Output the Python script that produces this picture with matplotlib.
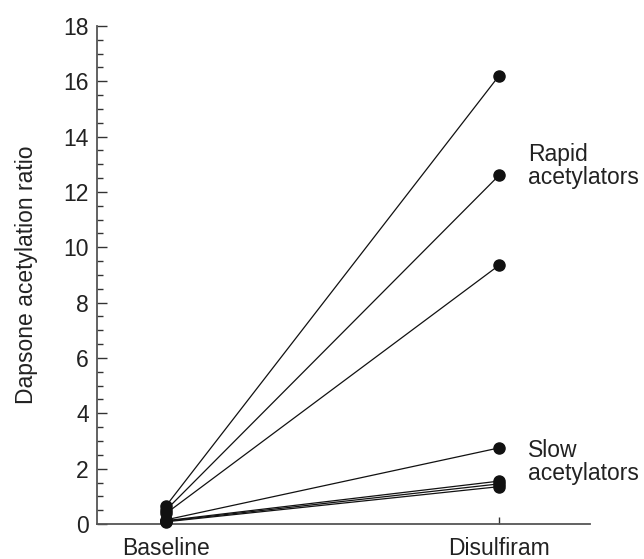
import matplotlib
matplotlib.use("Agg")
import matplotlib.pyplot as plt
from matplotlib.ticker import MultipleLocator

plt.rcParams['font.family'] = ['Liberation Sans', 'DejaVu Sans']

conditions = ["Baseline", "Disulfiram"]
baseline = [0.65, 0.50, 0.38, 0.15, 0.12, 0.10, 0.08]
disulfiram = [16.2, 12.6, 9.35, 2.75, 1.55, 1.45, 1.35]
group_labels = ["Rapid\nacetylators", "Slow\nacetylators"]
group_label_y = [12.95, 2.25]

FS = 16.5
TXT = '#222222'

fig = plt.figure(figsize=(6.44, 5.59), dpi=100)
ax = fig.add_axes([0.1506, 0.0626, 0.7655, 0.891])

xs = [0, 1]
for b, d in zip(baseline, disulfiram):
    ax.plot(xs, [b, d], color='#111111', lw=0.9, marker='o', ms=8,
            markerfacecolor='#111111', markeredgecolor='#111111', zorder=3,
            clip_on=False)

for lab, yv in zip(group_labels, group_label_y):
    ax.text(1.087, yv, lab, fontsize=FS, color=TXT, va='center', ha='left',
            linespacing=1.0)

ax.set_xlim(-0.207, 1.273)
ax.set_ylim(0, 18)
ax.set_xticks(xs)
ax.set_xticklabels(conditions, fontsize=FS, color=TXT)
ax.yaxis.set_major_locator(MultipleLocator(2))
ax.yaxis.set_minor_locator(MultipleLocator(0.5))
ax.tick_params(axis='y', which='major', direction='in', length=7, width=1,
               labelsize=FS, labelcolor=TXT, color='#333333', pad=6)
ax.tick_params(axis='y', which='minor', direction='in', length=4, width=1,
               color='#333333')
ax.tick_params(axis='x', direction='in', length=5, width=1, color='#333333', pad=9)
ax.set_ylabel("Dapsone acetylation ratio", fontsize=FS, color=TXT, labelpad=18)

for s in ['top', 'right']:
    ax.spines[s].set_visible(False)
for s in ['left', 'bottom']:
    ax.spines[s].set_color('#555555')
    ax.spines[s].set_linewidth(1.3)

fig.savefig("out.png", dpi=100)
